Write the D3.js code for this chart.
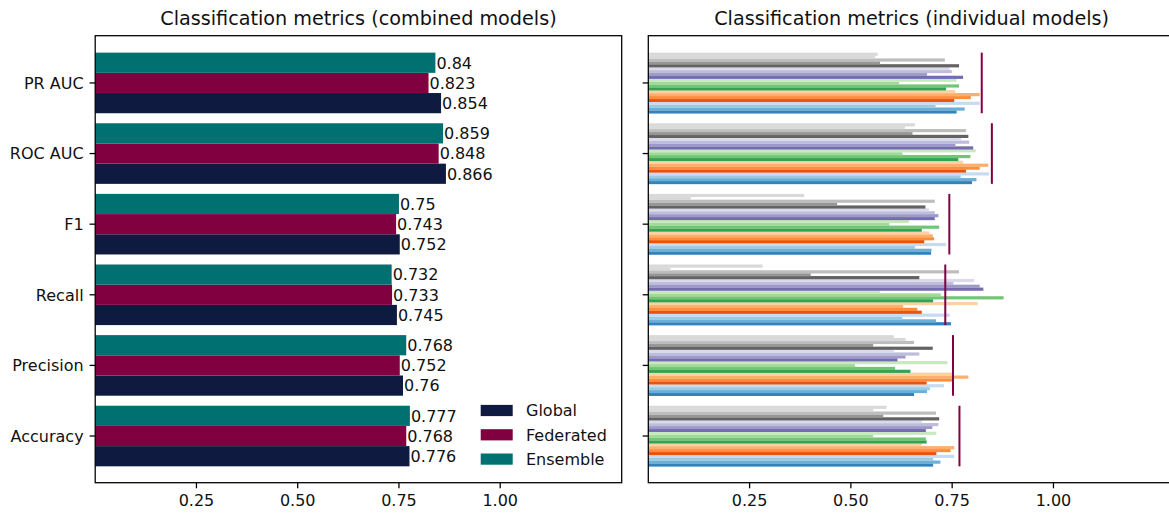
<!DOCTYPE html>
<html><head><meta charset="utf-8">
<script src="https://cdn.jsdelivr.net/npm/d3@7"></script>
<style>body{margin:0;background:#fff;overflow:hidden} text{font-family:"DejaVu Sans",sans-serif}</style>
</head><body><svg id="c" width="1169" height="513"></svg>
<script>
// categories, bottom to top
const metrics = ["Accuracy", "Precision", "Recall", "F1", "ROC AUC", "PR AUC"];
const seriesNames = ["Global", "Federated", "Ensemble"];
const globalVals = [0.776, 0.76, 0.745, 0.752, 0.866, 0.854];
const federatedVals = [0.768, 0.752, 0.733, 0.743, 0.848, 0.823];
const ensembleVals = [0.777, 0.768, 0.732, 0.75, 0.859, 0.84];
const seriesColors = ["#0e1a40", "#800040", "#007070"];
const xTicks = [0.25, 0.5, 0.75, 1.0];
const xTickLabels = ["0.25", "0.50", "0.75", "1.00"];

// individual models (21 models, model 0 drawn at bottom of each group)
const indivAccuracy = [0.703, 0.721, 0.703, 0.755, 0.711, 0.746, 0.755, 0.675, 0.687, 0.685, 0.555, 0.711, 0.685, 0.701, 0.716, 0.675, 0.718, 0.580, 0.710, 0.555, 0.588];
const indivPrecision = [0.656, 0.688, 0.695, 0.730, 0.687, 0.750, 0.790, 0.750, 0.647, 0.609, 0.510, 0.738, 0.615, 0.635, 0.669, 0.606, 0.702, 0.555, 0.656, 0.635, 0.606];
const indivRecall = [0.747, 0.710, 0.627, 0.744, 0.675, 0.664, 0.629, 0.813, 0.703, 0.877, 0.722, 0.572, 0.827, 0.818, 0.753, 0.804, 0.669, 0.401, 0.767, 0.055, 0.282];
const indivF1 = [0.698, 0.699, 0.658, 0.735, 0.681, 0.705, 0.702, 0.694, 0.675, 0.718, 0.595, 0.643, 0.707, 0.716, 0.707, 0.693, 0.684, 0.466, 0.707, 0.105, 0.385];
const indivROC = [0.799, 0.810, 0.771, 0.841, 0.784, 0.818, 0.839, 0.777, 0.765, 0.795, 0.627, 0.808, 0.802, 0.758, 0.792, 0.772, 0.790, 0.652, 0.784, 0.633, 0.658];
const indivPR = [0.761, 0.781, 0.709, 0.818, 0.755, 0.796, 0.818, 0.758, 0.735, 0.767, 0.619, 0.761, 0.777, 0.688, 0.749, 0.744, 0.767, 0.572, 0.732, 0.560, 0.566];
const modelColors = ["#3182bd", "#6baed6", "#9ecae1", "#c6dbef", "#e6550d", "#fd8d3c", "#fdae6b", "#fdd0a2",
  "#31a354", "#74c476", "#a1d99b", "#c7e9c0", "#756bb1", "#9e9ac8", "#bcbddc", "#dadaeb",
  "#636363", "#969696", "#bdbdbd", "#d9d9d9", "#d9d9d9"];

const indivAll = [indivAccuracy, indivPrecision, indivRecall, indivF1, indivROC, indivPR];
const seriesVals = [globalVals, federatedVals, ensembleVals];

const svg = d3.select("#c");
const axTop = 35.7, axBottom = 482.7;
const y = d3.scaleLinear().domain([-0.661, 5.669]).range([axBottom, axTop]);
const xL = d3.scaleLinear().domain([0, 1.3]).range([95.2, 621.7]);
const xR = d3.scaleLinear().domain([0, 1.3]).range([648.3, 1175]);
const bw = 0.286;
const txt = "#111";
const fs = 16, tfs = 19.2, tickLen = 5.6, sw = 1.28;

// ---------- Left panel ----------
const gL = svg.append("g");
seriesVals.forEach((vals, s) => {
  gL.selectAll(null).data(vals).enter().append("rect")
    .attr("x", xL(0))
    .attr("y", (d, i) => y(i + (s - 1) * bw + bw / 2))
    .attr("width", d => xL(d) - xL(0))
    .attr("height", y(0) - y(bw))
    .attr("fill", seriesColors[s]);
  gL.selectAll(null).data(vals).enter().append("text")
    .attr("x", d => xL(d) + 1)
    .attr("y", (d, i) => y(i + (s - 1) * bw))
    .attr("dy", "0.36em")
    .attr("font-size", fs)
    .attr("fill", txt)
    .text(d => String(d));
});
gL.append("rect").attr("x", xL(0)).attr("y", axTop).attr("width", xL(1.3) - xL(0)).attr("height", axBottom - axTop)
  .attr("fill", "none").attr("stroke", "#000").attr("stroke-width", sw);

// y ticks left
metrics.forEach((m, i) => {
  gL.append("line").attr("x1", xL(0) - tickLen).attr("x2", xL(0)).attr("y1", y(i)).attr("y2", y(i)).attr("stroke", "#000").attr("stroke-width", sw);
  gL.append("text").attr("x", xL(0) - tickLen - 6).attr("y", y(i)).attr("dy", "0.36em").attr("text-anchor", "end")
    .attr("font-size", fs).attr("fill", txt).text(m);
});

function xAxis(g, x) {
  xTicks.forEach((t, i) => {
    g.append("line").attr("x1", x(t)).attr("x2", x(t)).attr("y1", axBottom).attr("y2", axBottom + tickLen).attr("stroke", "#000").attr("stroke-width", sw);
    g.append("text").attr("x", x(t)).attr("y", axBottom + 23).attr("text-anchor", "middle").attr("font-size", fs).attr("fill", txt).text(xTickLabels[i]);
  });
}
xAxis(gL, xL);

gL.append("text").attr("x", (xL(0) + xL(1.3)) / 2).attr("y", 25).attr("text-anchor", "middle")
  .attr("font-size", tfs).attr("fill", txt).text("Classification metrics (combined models)");

// legend
seriesNames.forEach((name, s) => {
  const ly = 410.5 + s * 24.3;
  gL.append("rect").attr("x", 480.7).attr("y", ly - 5.6).attr("width", 32).attr("height", 11.2).attr("fill", seriesColors[s]);
  gL.append("text").attr("x", 526).attr("y", ly).attr("dy", "0.36em").attr("font-size", fs).attr("fill", txt).text(name);
});

// ---------- Right panel ----------
const gR = svg.append("g");
const nModels = modelColors.length;
const sh = (2 * 1.5 * bw) / nModels;
indivAll.forEach((vals, k) => {
  gR.selectAll(null).data(vals).enter().append("rect")
    .attr("x", xR(0))
    .attr("y", (d, i) => y(k - 1.5 * bw + (i + 1) * sh))
    .attr("width", d => xR(d) - xR(0))
    .attr("height", y(0) - y(sh) + 0.3)
    .attr("fill", (d, i) => modelColors[i]);
});
// federated reference lines
gR.selectAll(null).data(federatedVals).enter().append("line")
  .attr("x1", d => xR(d)).attr("x2", d => xR(d))
  .attr("y1", (d, i) => y(i + 1.5 * bw)).attr("y2", (d, i) => y(i - 1.5 * bw))
  .attr("stroke", seriesColors[1]).attr("stroke-width", 2);

gR.append("rect").attr("x", xR(0)).attr("y", axTop).attr("width", xR(1.3) - xR(0)).attr("height", axBottom - axTop)
  .attr("fill", "none").attr("stroke", "#000").attr("stroke-width", sw);
metrics.forEach((m, i) => {
  gR.append("line").attr("x1", xR(0) - tickLen).attr("x2", xR(0)).attr("y1", y(i)).attr("y2", y(i)).attr("stroke", "#000").attr("stroke-width", sw);
});
xAxis(gR, xR);
gR.append("text").attr("x", (xR(0) + xR(1.3)) / 2).attr("y", 25).attr("text-anchor", "middle")
  .attr("font-size", tfs).attr("fill", txt).text("Classification metrics (individual models)");
</script></body></html>
